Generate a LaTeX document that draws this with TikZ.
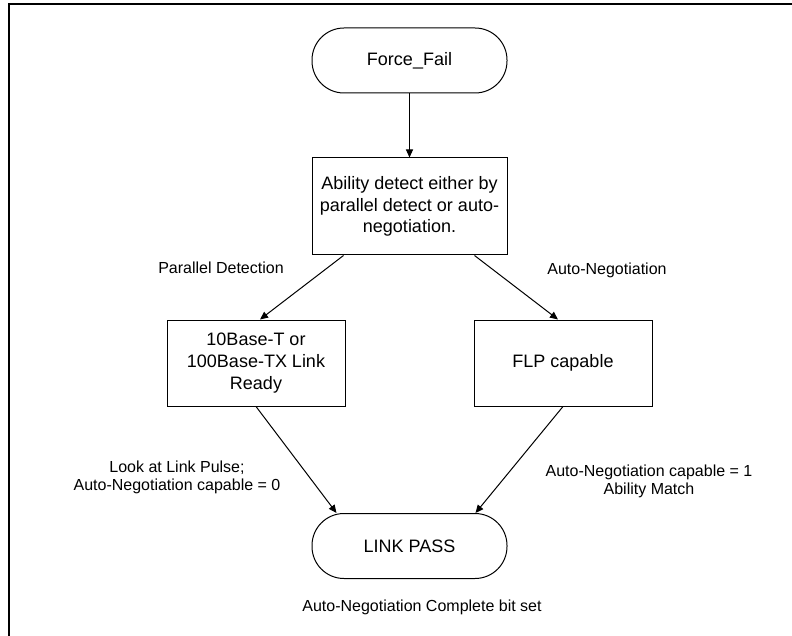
\documentclass[tikz,border=0pt]{standalone}
\usepackage{fontspec}
\setmainfont{Liberation Sans}
\usepackage{tikz}
\usetikzlibrary{positioning, arrows.meta}

\begin{document}
\begin{tikzpicture}[
    x=1pt, y=-1pt,
    terminal/.style={rectangle, draw, line width=1pt, rounded corners=32pt, minimum width=195pt, minimum height=65pt, font=\fontsize{18}{21.7}\selectfont},
    process/.style={rectangle, draw, line width=1pt, align=center, font=\fontsize{18}{21.7}\selectfont},
    label/.style={align=center, inner sep=0pt, font=\fontsize{16}{18.5}\selectfont},
    flow/.style={line width=1pt, -{Triangle[length=8pt, width=7pt]}},
]
\useasboundingbox (0,0) rectangle (792,636);

% Frame
\draw[line width=2pt] (792,4) -- (9,4) -- (9,636);

% Draw the states
\node[terminal] (fail) at (409.5, 60.5) {Force\_Fail};
\node[process, minimum width=195pt, minimum height=97pt] (detect) at (409.5, 206.5) {Ability detect either by\\parallel detect or auto-\\negotiation.};
\node[process, minimum width=178pt, minimum height=86pt] (plink) at (256, 363) {10Base-T or\\100Base-TX Link\\Ready};
\node[process, minimum width=178pt, minimum height=86pt] (flp) at (563, 363) {FLP capable};
\node[terminal] (pass) at (409.5, 546) {LINK PASS};

% Labels
\node[label] (lpd) at (221, 268) {Parallel Detection};
\node[label] (lan) at (607, 270) {Auto-Negotiation};
\node[label] (lpulse) at (177, 477.5) {Look at Link Pulse;\\Auto-Negotiation capable = 0};
\node[label] (lmatch) at (649, 481.5) {Auto-Negotiation capable = 1\\Ability Match};
\node[label] (ldone) at (422, 607) {Auto-Negotiation Complete bit set};

% Transitions
\draw[flow] (fail) -- (detect);
\draw[flow] ([xshift=32pt]detect.south west) -- ([xshift=4pt]plink.north);
\draw[flow] ([xshift=-33pt]detect.south east) -- ([xshift=-5pt]flp.north);
\draw[flow] (plink.south) -- ([xshift=25pt]pass.north west);
\draw[flow] (flp.south) -- ([xshift=-32pt]pass.north east);

\end{tikzpicture}
\end{document}
